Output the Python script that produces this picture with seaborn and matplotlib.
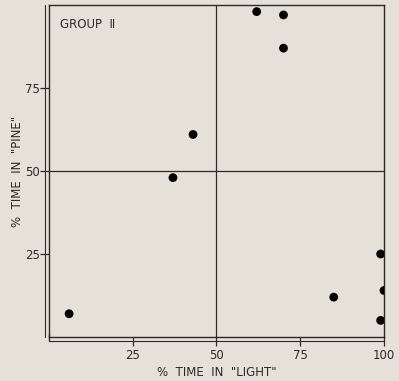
import matplotlib
matplotlib.use("Agg")
import matplotlib.pyplot as plt
from matplotlib.transforms import offset_copy
import seaborn as sns
import pandas as pd

# Percent of time each animal spent in the "light" side and in the "pine" side
light_pct = [6, 37, 43, 62, 70, 70, 85, 99, 100, 99]
pine_pct = [7, 48, 61, 98, 97, 87, 12, 25, 14, 5]
tick_values = [25, 50, 75, 100]
y_tick_values = [25, 50, 75]

df = pd.DataFrame({"light": light_pct, "pine": pine_pct})

sns.set_theme(style="white")
plt.rcParams["font.family"] = ["DejaVu Sans"]

bg = "#e6e1d8"
ink = "#2a2a2a"

fig = plt.figure(figsize=(3.99, 3.81), dpi=100, facecolor=bg)
ax = fig.add_axes([0.1228, 0.1155, 0.8396, 0.8714])
ax.set_facecolor(bg)

sns.scatterplot(data=df, x="light", y="pine", ax=ax, color="black",
                s=40, edgecolor="none", zorder=3)

# Quadrant dividers at 50 %
ax.axvline(50, color=ink, lw=0.9, zorder=1)
ax.axhline(50, color=ink, lw=0.9, zorder=1)

ax.set_xlim(0, 100)
ax.set_ylim(0, 100)
ax.set_xticks(tick_values)
ax.set_xticklabels([str(v) for v in tick_values])
ax.set_yticks(y_tick_values)
ax.set_yticklabels([str(v) for v in y_tick_values])

for side in ["left", "right", "top", "bottom"]:
    ax.spines[side].set_visible(True)
    ax.spines[side].set_color(ink)
    ax.spines[side].set_linewidth(1.0)

# Doubled rule along the left and bottom edges of the frame
t_left = offset_copy(ax.transAxes, fig=fig, x=-4, y=0, units="dots")
ax.plot([0, 0], [0, 1], transform=t_left, color=ink, lw=0.8, clip_on=False)
t_bottom = offset_copy(ax.transAxes, fig=fig, x=0, y=-4, units="dots")
ax.plot([0, 1], [0, 0], transform=t_bottom, color=ink, lw=0.8, clip_on=False)
ax.plot([0, 0], [0, 0.02], transform=t_bottom, color=ink, lw=1.0, clip_on=False)

ax.tick_params(axis="x", direction="out", length=6.5, width=0.9, color=ink,
               labelsize=8.5, labelcolor=ink, pad=2, bottom=True)
ax.tick_params(axis="y", direction="out", length=6.5, width=0.9, color=ink,
               labelsize=8.5, labelcolor=ink, pad=0, left=True)

ax.set_xlabel('%  TIME  IN  "LIGHT"', fontsize=8.5, color=ink, labelpad=3)
ax.set_ylabel('%  TIME  IN  "PINE"', fontsize=8.5, color=ink, labelpad=1)

ax.text(0.033, 0.96, "GROUP  Ⅱ", transform=ax.transAxes, fontsize=8.5,
        color=ink, va="top", ha="left")

fig.savefig("out.png", dpi=100, facecolor=bg)
